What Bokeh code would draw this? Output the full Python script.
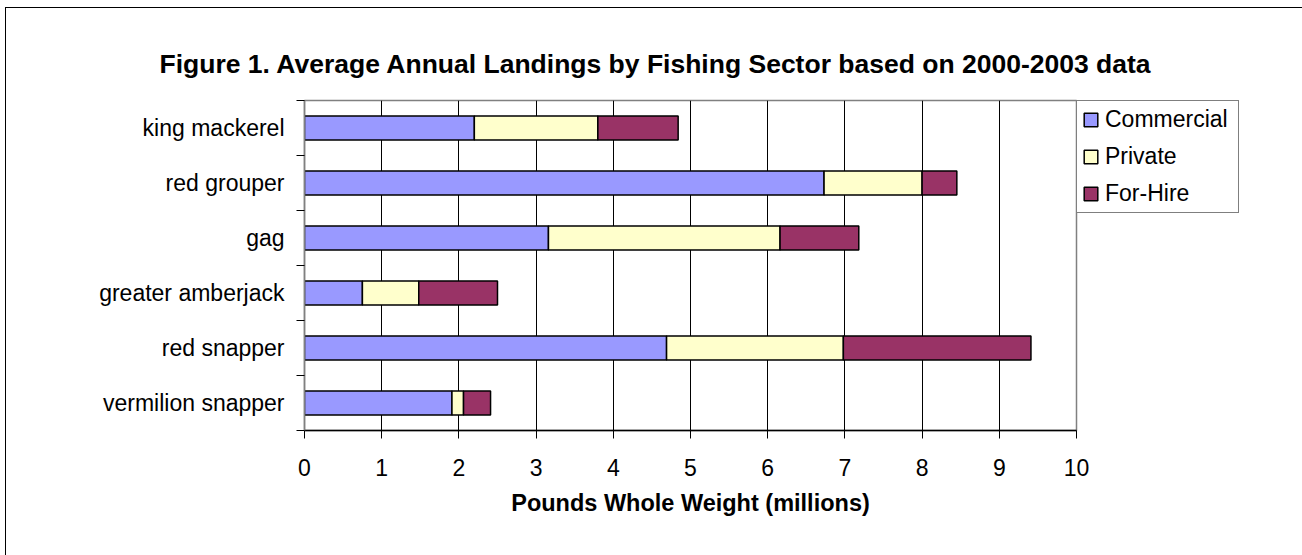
from bokeh.plotting import figure
from bokeh.models import ColumnDataSource, Range1d, FixedTicker, LinearAxis, Title
from bokeh.embed import file_html
from bokeh.resources import INLINE

# ---- data ----
species = ["vermilion snapper", "red snapper", "greater amberjack", "gag", "red grouper", "king mackerel"]
commercial = [1.91, 4.69, 0.75, 3.16, 6.73, 2.20]
private = [0.15, 2.29, 0.73, 3.00, 1.27, 1.60]
for_hire = [0.35, 2.43, 1.02, 1.02, 0.45, 1.04]
sectors = ["Commercial", "Private", "For-Hire"]
colors = ["#9999FF", "#FFFFCC", "#993366"]
x_ticks = [0, 1, 2, 3, 4, 5, 6, 7, 8, 9, 10]
title_text = "Figure 1.  Average Annual Landings by Fishing Sector based on 2000-2003 data"
x_title = "Pounds Whole Weight (millions)"

FONT = "Liberation Sans"

ypos = [i + 0.5 for i in range(len(species))]
source = ColumnDataSource(dict(y=ypos, Commercial=commercial, Private=private, **{"For-Hire": for_hire}))

p = figure(frame_width=772, frame_height=330, output_backend="svg", toolbar_location=None,
           x_range=Range1d(0, 10), y_range=Range1d(0, len(species)),
           min_border_left=298, min_border_right=226, min_border_top=92, min_border_bottom=125,
           x_axis_location=None, y_axis_location=None)
p.styles = {"border-left": "1px solid #000000", "border-top": "1px solid #000000",
            "margin-left": "5px", "margin-top": "7px"}
p.background_fill_color = "white"
p.border_fill_color = "white"
p.outline_line_color = "#808080"
p.outline_line_width = 1.5

# title
t = Title(text=title_text, align="left", offset=-145, standoff=44,
          text_font=FONT, text_font_size="26.5px", text_font_style="bold", text_color="#000000")
p.title = t

# axes
xaxis = LinearAxis(ticker=FixedTicker(ticks=x_ticks))
xaxis.axis_line_color = "#000000"
xaxis.axis_line_width = 1.5
xaxis.major_tick_in = 0
xaxis.major_tick_out = 8
xaxis.major_tick_line_color = "#000000"
xaxis.minor_tick_line_color = None
xaxis.major_label_text_font = FONT
xaxis.major_label_text_font_size = "23px"
xaxis.major_label_text_color = "#000000"
xaxis.major_label_standoff = 20
xaxis.axis_label = x_title
xaxis.axis_label_text_font = FONT
xaxis.axis_label_text_font_size = "23.5px"
xaxis.axis_label_text_font_style = "bold"
xaxis.axis_label_text_color = "#000000"
xaxis.axis_label_standoff = 11
p.add_layout(xaxis, "below")

yaxis = LinearAxis(ticker=FixedTicker(ticks=ypos, minor_ticks=list(range(len(species) + 1))))
yaxis.major_label_overrides = {y: s for y, s in zip(ypos, species)}
yaxis.axis_line_color = "#808080"
yaxis.axis_line_width = 1.5
yaxis.major_tick_in = 0
yaxis.major_tick_out = 0
yaxis.minor_tick_in = 0
yaxis.minor_tick_out = 8
yaxis.minor_tick_line_color = "#000000"
yaxis.major_label_text_font = FONT
yaxis.major_label_text_font_size = "23px"
yaxis.major_label_text_color = "#000000"
yaxis.major_label_standoff = 12
p.add_layout(yaxis, "left")

p.xgrid.ticker = FixedTicker(ticks=x_ticks)
p.xgrid.grid_line_color = "#000000"
p.xgrid.grid_line_width = 1
p.ygrid.grid_line_color = None

p.hbar_stack(sectors, y="y", height=0.44, color=colors, source=source,
             line_color="#000000", line_width=1.5,
             legend_label=sectors)

leg = p.legend[0]
p.add_layout(leg, "right")
leg.location = "top_left"
leg.label_text_font = FONT
leg.label_text_font_size = "23px"
leg.label_text_color = "#000000"
leg.glyph_width = 17
leg.glyph_height = 17
leg.label_standoff = 6
leg.label_width = 128
leg.spacing = 10
leg.padding = 5
leg.margin = 0
leg.border_line_color = "#000000"
leg.border_line_width = 1
leg.background_fill_color = "white"
leg.background_fill_alpha = 1

open("out.html", "w").write(file_html(p, INLINE))
